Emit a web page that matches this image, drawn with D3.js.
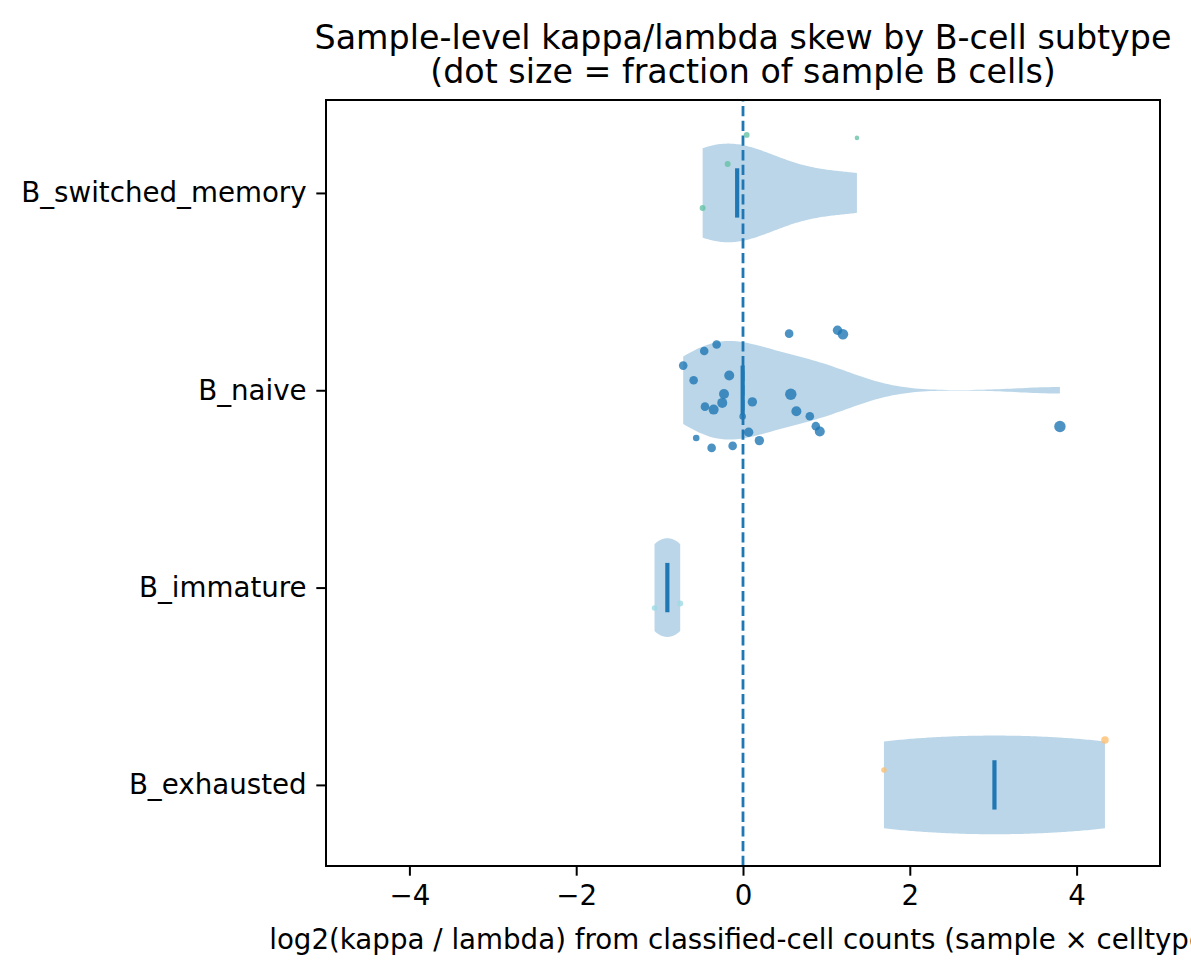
<!DOCTYPE html>
<html>
<head>
<meta charset="utf-8">
<script src="https://cdn.jsdelivr.net/npm/d3@7"></script>
<style>
  body { margin: 0; background: #fff; }
  svg text { font-family: "DejaVu Sans", sans-serif; fill: #000; }
</style>
</head>
<body>
<div id="chart"></div>
<script>
// categories, top to bottom
const cellTypes = ["B_switched_memory", "B_naive", "B_immature", "B_exhausted"]
const dotColors = ["#66c2a5", "#1f77b4", "#9edae5", "#fdbf6f"]
const xTicks = [-4, -2, 0, 2, 4]

// log2(kappa/lambda) per sample
const switchedLog2 = [0.044, 1.366, -0.184, -0.484]
const naiveLog2 = [0.553, 1.133, 1.198, -0.316, -0.465, -0.717, -0.592, -0.165, -0.228, -0.249,
  -0.456, -0.352, 0.112, 0.573, 0.640, 0.801, -0.004, 0.873, 0.921, 0.068,
  0.196, -0.561, -0.376, -0.124, 3.800]
const immatureLog2 = [-1.061, -0.753]
const exhaustedLog2 = [1.690, 4.340]

// vertical jitter (category units)
const switchedJitter = [-0.294, -0.279, -0.147, 0.076]
const naiveJitter = [-0.287, -0.304, -0.284, -0.232, -0.199, -0.125, -0.051, -0.075, 0.019, 0.064,
  0.083, 0.098, 0.059, 0.020, 0.106, 0.132, 0.133, 0.182, 0.209, 0.213,
  0.255, 0.242, 0.292, 0.282, 0.184]
const immatureJitter = [0.103, 0.081]
const exhaustedJitter = [-0.076, -0.228]

// fraction of sample B cells (dot size)
const switchedFrac = [0.13, 0.08, 0.14, 0.14]
const naiveFrac = [0.29, 0.345, 0.44, 0.29, 0.29, 0.29, 0.29, 0.39, 0.39, 0.39,
  0.29, 0.39, 0.345, 0.51, 0.39, 0.29, 0.17, 0.29, 0.39, 0.345,
  0.345, 0.17, 0.29, 0.29, 0.51]
const immatureFrac = [0.12, 0.14]
const exhaustedFrac = [0.12, 0.22]

const allLog2 = [switchedLog2, naiveLog2, immatureLog2, exhaustedLog2]
const allJitter = [switchedJitter, naiveJitter, immatureJitter, exhaustedJitter]
const allFrac = [switchedFrac, naiveFrac, immatureFrac, exhaustedFrac]

const W = 1191, H = 974
const MARGIN = { LEFT: 326, RIGHT: 31, TOP: 100, BOTTOM: 108 }
const innerW = W - MARGIN.LEFT - MARGIN.RIGHT
const innerH = H - MARGIN.TOP - MARGIN.BOTTOM

const svg = d3.select("#chart").append("svg")
  .attr("width", W).attr("height", H)

const g = svg.append("g")
  .attr("transform", `translate(${MARGIN.LEFT}, ${MARGIN.TOP})`)

const x = d3.scaleLinear().domain([-5, 5]).range([0, innerW])
const y = d3.scaleLinear().domain([-0.471, 3.411]).range([0, innerH])
const r = d3.scaleSqrt().domain([0, 1]).range([0, 8])

// gaussian kde, scott bandwidth (like matplotlib violinplot)
function kde(values, n) {
  const m = values.length
  const sd = d3.deviation(values)
  const bw = sd * Math.pow(m, -1 / 5)
  const lo = d3.min(values), hi = d3.max(values)
  return d3.range(n).map(i => {
    const v = lo + (hi - lo) * i / (n - 1)
    const dens = d3.sum(values, d => Math.exp(-0.5 * ((v - d) / bw) ** 2)) / (m * bw * Math.sqrt(2 * Math.PI))
    return [v, dens]
  })
}

const halfWidth = 0.25

allLog2.forEach((vals, i) => {
  const est = kde(vals, 100)
  const maxD = d3.max(est, d => d[1])
  const area = d3.area()
    .x(d => x(d[0]))
    .y0(d => y(i - halfWidth * d[1] / maxD))
    .y1(d => y(i + halfWidth * d[1] / maxD))
  g.append("path")
    .attr("d", area(est))
    .attr("fill", "#1f77b4")
    .attr("fill-opacity", 0.3)

  const med = d3.median(vals)
  g.append("line")
    .attr("x1", x(med)).attr("x2", x(med))
    .attr("y1", y(i - halfWidth / 2)).attr("y2", y(i + halfWidth / 2))
    .attr("stroke", "#1f77b4")
    .attr("stroke-width", 4.2)
})

// reference line at 0
g.append("line")
  .attr("x1", x(0)).attr("x2", x(0))
  .attr("y1", innerH).attr("y2", 0)
  .attr("stroke", "#1f77b4")
  .attr("stroke-width", 2.8)
  .attr("stroke-dasharray", "10.3,4.4")

// sample dots
allLog2.forEach((vals, i) => {
  const pts = vals.map((v, j) => ({ v, jit: allJitter[i][j], f: allFrac[i][j] }))
  g.selectAll(`.dot${i}`).data(pts).enter()
    .append("circle")
    .attr("class", `dot${i}`)
    .attr("cx", d => x(d.v))
    .attr("cy", d => y(i + d.jit))
    .attr("r", d => r(d.f))
    .attr("fill", dotColors[i])
    .attr("fill-opacity", 0.8)
})

// axes
const xAxis = g.append("g")
  .attr("transform", `translate(0, ${innerH})`)
  .call(d3.axisBottom(x).tickValues(xTicks).tickSize(9.7).tickPadding(9.7))
const yAxis = g.append("g")
  .call(d3.axisLeft(y).tickValues(d3.range(cellTypes.length)).tickFormat(i => cellTypes[i]).tickSize(9.7).tickPadding(9.7))

;[xAxis, yAxis].forEach(a => {
  a.select(".domain").remove()
  a.selectAll(".tick line").attr("stroke", "#000").attr("stroke-width", 2)
  a.selectAll(".tick text").attr("font-size", "27.7px").attr("font-family", "DejaVu Sans")
})

g.append("rect")
  .attr("width", innerW).attr("height", innerH)
  .attr("fill", "none").attr("stroke", "#000").attr("stroke-width", 2)

// labels
svg.append("text")
  .attr("x", MARGIN.LEFT + innerW / 2).attr("y", 949)
  .attr("text-anchor", "middle")
  .attr("font-size", "27.7px")
  .text("log2(kappa / lambda) from classified-cell counts (sample × celltype)")

const title = svg.append("text")
  .attr("text-anchor", "middle")
  .attr("font-size", "33.3px")
title.append("tspan").attr("x", MARGIN.LEFT + innerW / 2).attr("y", 49)
  .text("Sample-level kappa/lambda skew by B-cell subtype")
title.append("tspan").attr("x", MARGIN.LEFT + innerW / 2).attr("y", 83)
  .text("(dot size = fraction of sample B cells)")
</script>
</body>
</html>
